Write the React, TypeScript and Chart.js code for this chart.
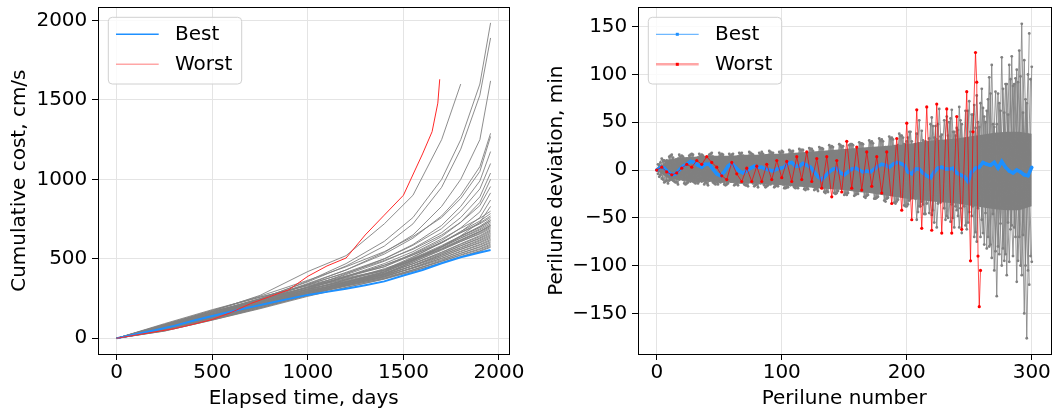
import React, { useEffect, useRef } from 'react';
import { Chart, registerables } from 'chart.js';

Chart.register(...registerables);

// ---------------- LEFT PANEL DATA (cumulative cost) ----------------
const costTimes = [0, 250, 500, 750, 1000, 1200, 1400, 1550, 1700, 1800, 1900, 1956];

const grayCostRuns = [
  // high outliers
  [0, 70, 150, 245, 360, 470, 610, 760, 1000, 1250, 1600, 1985],
  [0, 75, 160, 250, 355, 455, 580, 720, 950, 1190, 1530, 1890],
  [0, 80, 170, 270, 420, 520, 720, 900, 1250, 1600],
  [0, 65, 145, 235, 340, 430, 540, 650, 830, 1000, 1250, 1620],
  [0, 70, 150, 240, 345, 430, 530, 630, 770, 900, 1080, 1290],
  [0, 85, 175, 265, 365, 450, 545, 640, 760, 880, 1050, 1270],
  [0, 60, 140, 225, 320, 405, 500, 590, 710, 830, 990, 1175],
  [0, 75, 155, 240, 335, 415, 500, 585, 690, 800, 940, 1100],
  [0, 68, 148, 232, 325, 400, 485, 565, 665, 760, 890, 1040],
  [0, 55, 130, 215, 310, 390, 470, 545, 640, 730, 855, 1000],
  [0, 80, 165, 250, 340, 410, 490, 560, 650, 730, 835, 955],
  [0, 62, 140, 222, 312, 385, 460, 530, 615, 695, 795, 915],
  [0, 72, 152, 235, 320, 390, 460, 525, 600, 670, 760, 870],
  [0, 58, 132, 212, 300, 368, 438, 500, 575, 645, 730, 830],
  // dense core
  [0, 78, 160, 240, 322, 385, 450, 534, 625, 692, 755, 800],
  [0, 52, 125, 205, 290, 355, 420, 508, 603, 672, 738, 785],
  [0, 66, 145, 225, 305, 368, 432, 513, 601, 665, 726, 770],
  [0, 88, 175, 258, 335, 392, 450, 524, 605, 664, 720, 760],
  [0, 45, 115, 190, 272, 338, 402, 486, 576, 642, 705, 750],
  [0, 70, 150, 230, 308, 368, 428, 503, 584, 643, 699, 740],
  [0, 60, 138, 215, 295, 355, 415, 491, 573, 632, 689, 730],
  [0, 82, 165, 245, 320, 375, 430, 500, 575, 630, 682, 720],
  [0, 50, 120, 198, 280, 342, 405, 479, 559, 617, 672, 712],
  [0, 74, 152, 230, 306, 362, 418, 487, 562, 616, 668, 705],
  [0, 64, 140, 218, 295, 352, 410, 479, 554, 609, 661, 698],
  [0, 92, 180, 260, 330, 380, 430, 492, 560, 609, 656, 690],
  [0, 55, 128, 205, 285, 345, 402, 469, 542, 595, 646, 682],
  [0, 68, 146, 222, 298, 352, 405, 470, 540, 591, 640, 675],
  [0, 48, 118, 192, 272, 332, 392, 458, 530, 582, 632, 668],
  [0, 80, 160, 238, 308, 358, 408, 468, 534, 582, 627, 660],
  [0, 60, 134, 210, 288, 342, 395, 457, 524, 572, 619, 652],
  [0, 72, 150, 226, 298, 348, 398, 457, 522, 568, 613, 645],
  [0, 52, 124, 198, 276, 332, 386, 446, 512, 560, 605, 638],
  [0, 86, 168, 242, 310, 355, 400, 455, 515, 559, 600, 630],
  [0, 58, 130, 204, 280, 334, 386, 443, 504, 549, 591, 622],
  [0, 66, 142, 216, 290, 340, 390, 444, 502, 545, 586, 615],
  [0, 46, 114, 186, 264, 320, 374, 430, 490, 535, 577, 607],
  [0, 76, 154, 228, 298, 344, 390, 440, 495, 535, 573, 600],
  [0, 56, 128, 200, 275, 328, 378, 429, 485, 526, 564, 592],
  [0, 68, 144, 216, 287, 336, 382, 431, 484, 522, 559, 585],
  [0, 50, 120, 192, 268, 320, 372, 421, 475, 514, 551, 578],
  [0, 62, 136, 208, 280, 330, 376, 423, 474, 511, 547, 572],
  [0, 56, 130, 208, 290, 352, 416, 494, 578, 640, 698, 740],
  [0, 84, 168, 246, 318, 372, 424, 493, 567, 621, 673, 710],
];

const bestCostTimes = [0, 100, 200, 300, 400, 500, 600, 700, 800, 900, 1000, 1100, 1200, 1300, 1400, 1500, 1600, 1700, 1800, 1900, 1956];
const bestCost = [0, 25, 50, 78, 110, 140, 168, 196, 222, 248, 273, 292, 312, 334, 358, 395, 430, 472, 510, 540, 556];

const worstCostTimes = [0, 100, 200, 300, 400, 500, 600, 700, 800, 900, 1000, 1100, 1200, 1300, 1400, 1500, 1600, 1650, 1680, 1690];
const worstCost = [0, 20, 40, 60, 88, 118, 163, 218, 262, 305, 390, 455, 505, 650, 775, 900, 1160, 1300, 1480, 1630];

const costXTicks = [0, 500, 1000, 1500, 2000];
const costYTicks = [0, 500, 1000, 1500, 2000];

// ---------------- RIGHT PANEL DATA (perilune deviation) ----------------
const bestDevStep = 3; // best deviation sampled every 3 perilunes from 0
const bestDev = [
  0, 3, 2, -2, -5, -4, 0, 4, 6, 9,
  8, 5, 3, 6, 6, 1, -4, -6, -2, 4,
  7, 3, -1, -3, -1, 2, 4, 3, 3, 1,
  0, -1, 1, 2, 3, 7, 8, 4, 4, 7,
  5, 3, -2, -7, -10, -6, -2, 1, 2, -3,
  -5, -2, 1, 2, 0, -2, -1, -2, 1, 4,
  6, 5, 3, 6, 8, 7, 5, -2, -4, 1,
  1, -3, -6, -8, -2, 2, 3, 1, 1, 2,
  -3, -5, -7, -12, -2, 2, 3, 8, 6, 5,
  8, 2, 9, 3, -1, -3, 0, -2, -5, -6,
  3,
];

const worstPerilune = [0, 4, 8, 12, 16, 20, 24, 28, 32, 36, 40, 44, 48, 52, 56, 60, 64, 68, 72, 76, 80, 84, 88, 92, 96, 100, 104, 108, 112, 116, 120, 124, 128, 132, 136, 140, 144, 148, 152, 156, 160, 164, 168, 172, 176, 180, 184, 188, 192, 196, 200, 204, 208, 212, 216, 220, 224, 228, 232, 236, 240, 244, 248, 251, 253, 255, 256, 257, 258, 259];
const worstDev = [0, 3, -2, -5, -3, 2, 6, 3, 10, 6, 14, 8, 3, -6, -10, 8, -4, -12, 2, -12, 4, -12, 6, -10, 10, -8, 9, -12, 14, -10, 19, -12, 12, -19, 14, -28, 10, -23, 30, -19, 24, -21, 19, -17, 14, -24, 19, -35, 33, -42, 49, -52, 63, -61, 66, -63, 69, -66, 64, -66, 56, -62, 82, -95, 40, 123, 92, -90, -143, -105];

// dense core of the Monte-Carlo runs, every 10 perilunes
const coreStep = 10;
const coreUpper = [1, 11, 13, 14, 15, 15, 15, 16, 16, 17, 17, 18, 19, 20, 21, 22, 23, 24, 25, 26, 27, 29, 31, 32, 33, 35, 37, 39, 40, 40, 38];
const coreLower = [-1, -9, -11, -12, -12, -13, -13, -14, -14, -15, -16, -17, -18, -19, -20, -21, -23, -24, -26, -28, -30, -31, -33, -34, -35, -37, -39, -41, -42, -42, -38];

// individual runs, turning points every 4 perilunes
const turnStep = 4;
const grayDevA = [
  0, 12, -11, 16, -13, 15, -14, 17, -12, 16,
  -14, 18, -13, 17, -15, 16, -14, 18, -16, 17,
  -15, 19, -17, 18, -16, 20, -18, 19, -17, 21,
  -19, 22, -20, 23, -22, 25, -24, 24, -26, 27,
  -25, 28, -27, 30, -29, 32, -30, 34, -33, 36,
  -38, 30, -52, 41, -35, 55, -60, 37, -48, 63,
  -42, 48, -62, 58, -75, 85, -82, 110, -132, 118,
  -110, 119, -117, 153, -176, 108,
];
const grayDevB = [
  5, -13, 14, -12, 16, -14, 15, -13, 17, -15,
  16, -14, 18, -15, 17, -16, 18, -15, 19, -17,
  18, -16, 20, -18, 19, -19, 21, -18, 22, -20,
  23, -21, 24, -23, 26, -24, 27, -26, 26, -27,
  29, -28, 31, -30, 33, -32, 35, -34, 38, -37,
  40, -28, 52, -46, 33, -55, 64, -40, 50, -60,
  66, -38, 72, -70, 45, -78, 97, -105, 70, -95,
  110, -60, 125, -150, 143,
];
const grayDevC = [
  -4, 10, -14, 13, -15, 14, -13, 16, -14, 15,
  -16, 14, -15, 16, -14, 17, -16, 15, -17, 16,
  -18, 17, -16, 18, -17, 19, -18, 20, -19, 21,
  -20, 20, -22, 22, -23, 24, -22, 25, -24, 26,
  -25, 27, -26, 28, -28, 30, -29, 32, -31, 34,
  -36, 25, -44, 31, -28, 46, -35, 28, -50, 40,
  -48, 32, -55, 58, -40, 65, -70, 48, -80, 85,
  -55, 88, -95, 60, -105,
];
const grayDevD = [
  8, -12, 15, -13, 14, -15, 16, -14, 15, -13,
  17, -15, 16, -16, 15, -15, 17, -16, 18, -16,
  17, -18, 19, -17, 18, -19, 20, -19, 21, -21,
  22, -20, 23, -24, 24, -25, 26, -25, 27, -26,
  28, -29, 29, -30, 31, -33, 33, -35, 36, -38,
  40, -30, 28, -46, 48, -26, 35, -52, 54, -38,
  52, -58, 40, -65, 70, -45, 80, -85, 62, -88,
  95, -70, 98, -100, 95,
];
const grayDevE = [
  0, -9, 10, -10, 11, -9, 12, -11, 10, -12,
  11, -10, 13, -11, 12, -12, 11, -13, 12, -12,
  13, -12, 14, -13, 12, -14, 15, -13, 14, -15,
  16, -14, 15, -17, 17, -16, 18, -18, 17, -19,
  20, -19, 21, -20, 22, -22, 23, -24, 25, -26,
  30, -24, 38, -33, 26, -47, 32, -28, 56, -36,
  44, -66, 30, -48, 78, -52, 62, -92, 48, -100,
  90, -58, 105, -110, 70, -96,
];
const grayDevF = [
  -7, 10, -11, 9, -10, 12, -11, 11, -12, 10,
  -11, 12, -12, 13, -11, 12, -13, 12, -12, 14,
  -13, 13, -14, 12, -14, 15, -14, 14, -16, 15,
  -15, 17, -16, 16, -18, 18, -17, 19, -19, 18,
  -20, 21, -21, 22, -23, 22, -24, 25, -26, 27,
  -32, 24, -38, 29, -45, 34, -26, 52, -30, 40,
  -60, 28, -44, 68, -34, 56, -80, 45, -88, 60,
  -96, 90, -70, 115, -120,
];
const grayDevG = [
  6, -10, 9, -11, 12, -10, 11, -12, 13, -11,
  12, -13, 11, -12, 13, -12, 14, -13, 12, -14,
  13, -14, 15, -13, 14, -15, 13, -16, 15, -14,
  16, -17, 16, -15, 18, -17, 19, -18, 17, -20,
  19, -21, 20, -22, 23, -21, 24, -23, 26, -25,
  34, -22, 28, -36, 24, -42, 48, -30, 36, -50,
  42, -32, 62, -38, 50, -66, 74, -46, 80, -82,
  58, -90, 92, -68, 100,
];
const grayDevH = [
  -5, 9, -10, 11, -9, 10, -12, 10, -11, 12,
  -10, 11, -13, 12, -12, 11, -13, 13, -12, 14,
  -14, 13, -15, 14, -13, 15, -16, 14, -15, 16,
  -16, 15, -18, 17, -16, 18, -19, 18, -20, 19,
  -19, 21, -22, 21, -23, 24, -24, 25, -27, 26,
  -30, 22, -38, 30, -26, 46, -34, 28, -54, 36,
  -40, 62, -32, 44, -70, 50, -78, 82, -56, 90,
  -62, 96, -100, 74, -90,
];
const grayDevRuns = [grayDevA, grayDevB, grayDevC, grayDevD, grayDevE, grayDevF, grayDevG, grayDevH];
const grayDevStart = [0, 2, 1, 3, 0, 2, 1, 3];

const devXTicks = [0, 100, 200, 300];
const devYTicks = [-150, -100, -50, 0, 50, 100, 150];

// ---------------- STYLE ----------------
const FONT_FAMILY = "'DejaVu Sans', 'Liberation Sans', sans-serif";
const FONT20 = { family: FONT_FAMILY, size: 20 };
const BLUE = 'rgb(30,144,255)';
const GRID = '#e4e4e4';

const fmt = (v: number) => (v < 0 ? '\u2212' + Math.abs(v) : String(v));

const framePlugin = {
  id: 'frame',
  afterDatasetsDraw(chart: any, _args: any, opts: any) {
    const { ctx, chartArea: a } = chart;
    ctx.save();
    ctx.strokeStyle = '#000';
    ctx.lineWidth = 1;
    const l = Math.round(a.left) + 0.5;
    const t = Math.round(a.top) + 0.5;
    const r = Math.round(a.right) + 0.5;
    const b = Math.round(a.bottom) + 0.5;
    ctx.strokeRect(l, t, r - l, b - t);

    const items = (opts && opts.items) || [];
    if (items.length) {
      const bx = a.left + 10.3;
      const by = a.top + 10;
      const bw = 133.4;
      const bh = 66.7;
      ctx.beginPath();
      if ((ctx as any).roundRect) (ctx as any).roundRect(bx, by, bw, bh, 4);
      else ctx.rect(bx, by, bw, bh);
      ctx.fillStyle = 'rgba(255,255,255,0.8)';
      ctx.fill();
      ctx.strokeStyle = '#d0d0d0';
      ctx.lineWidth = 1;
      ctx.stroke();
      items.forEach((it: any, i: number) => {
        const y = by + 17 + i * 30;
        ctx.beginPath();
        ctx.moveTo(bx + 7.7, y);
        ctx.lineTo(bx + 50.4, y);
        ctx.strokeStyle = it.color;
        ctx.lineWidth = it.width;
        ctx.stroke();
        if (it.marker) {
          ctx.fillStyle = it.marker;
          ctx.fillRect(bx + 29 - 1.5, y - 1.5, 3, 3);
        }
        ctx.fillStyle = '#000';
        ctx.font = `20px ${FONT_FAMILY}`;
        ctx.textBaseline = 'middle';
        ctx.textAlign = 'left';
        ctx.fillText(it.label, bx + 66.7, y);
      });
    }
    ctx.restore();
  },
};

function makeAxis(o: any) {
  return {
    type: 'linear',
    min: o.min,
    max: o.max,
    afterFit: (s: any) => {
      if (o.width !== undefined) s.width = o.width;
      if (o.height !== undefined) s.height = o.height;
      s.paddingTop = 0;
      s.paddingBottom = 0;
      s.paddingLeft = 0;
      s.paddingRight = 0;
    },
    afterBuildTicks: (s: any) => {
      s.ticks = o.ticks.map((v: number) => ({ value: v }));
    },
    ticks: {
      font: FONT20,
      color: '#000',
      padding: o.tickPad,
      maxRotation: 0,
      autoSkip: false,
      includeBounds: false,
      callback: (v: any) => fmt(Number(v)),
    },
    grid: {
      color: GRID,
      lineWidth: 1,
      drawTicks: true,
      tickLength: 6,
      tickColor: '#000',
      tickWidth: 1,
    },
    border: { display: false },
    title: {
      display: true,
      text: o.title,
      font: FONT20,
      color: '#000',
      padding: o.titlePad,
    },
  };
}

function leftConfig(): any {
  const datasets: any[] = [
    {
      label: 'Best',
      data: bestCostTimes.map((t, i) => ({ x: t, y: bestCost[i] })),
      borderColor: BLUE,
      borderWidth: 2,
      pointRadius: 0,
      order: 1,
    },
    {
      label: 'Worst',
      data: worstCostTimes.map((t, i) => ({ x: t, y: worstCost[i] })),
      borderColor: 'rgb(255,40,40)',
      borderWidth: 1,
      pointRadius: 0,
      order: 0,
    },
    ...grayCostRuns.map((run) => ({
      label: '',
      data: run.map((v, i) => ({ x: costTimes[i], y: v })),
      borderColor: 'rgb(128,128,128)',
      borderWidth: 0.9,
      pointRadius: 0,
      order: 2,
    })),
  ];
  return {
    type: 'line',
    data: { datasets },
    options: {
      animation: false,
      responsive: false,
      devicePixelRatio: 1,
      events: [],
      layout: { padding: { left: 0, top: 7.3, right: 18.7, bottom: 0 } },
      elements: { line: { tension: 0 } },
      scales: {
        x: makeAxis({ min: -97.8, max: 2054, height: 60, ticks: costXTicks, tickPad: 1, title: 'Elapsed time, days', titlePad: { top: 0, bottom: 3.4 } }),
        y: makeAxis({ min: -99, max: 2083, width: 98, ticks: costYTicks, tickPad: 4.7, title: 'Cumulative cost, cm/s', titlePad: { top: 7.8, bottom: 0 } }),
      },
      plugins: {
        legend: { display: false },
        tooltip: { enabled: false },
        frame: {
          items: [
            { label: 'Best', color: BLUE, width: 1.5 },
            { label: 'Worst', color: 'rgba(255,0,0,0.35)', width: 1.5 },
          ],
        },
      },
    },
    plugins: [framePlugin],
  };
}

function rightConfig(): any {
  const datasets: any[] = [
    {
      label: 'Best',
      data: bestDev.map((v, i) => ({ x: i * bestDevStep, y: v })),
      borderColor: BLUE,
      borderWidth: 3.5,
      pointRadius: 1.7,
      pointBorderWidth: 0,
      pointBackgroundColor: BLUE,
      order: 1,
    },
    {
      label: 'Worst',
      data: worstPerilune.map((p, i) => ({ x: p, y: worstDev[i] })),
      borderColor: 'rgba(255,0,0,0.7)',
      borderWidth: 1,
      pointRadius: 1.6,
      pointBorderWidth: 0,
      pointBackgroundColor: 'rgb(255,0,0)',
      order: 0,
    },
    {
      label: '',
      data: coreUpper.map((v, i) => ({ x: i * coreStep, y: v })),
      borderWidth: 0,
      pointRadius: 0,
      fill: false,
      order: 3,
    },
    {
      label: '',
      data: coreLower.map((v, i) => ({ x: i * coreStep, y: v })),
      borderWidth: 0,
      pointRadius: 0,
      fill: '-1',
      backgroundColor: 'rgb(128,128,128)',
      order: 3,
    },
    ...grayDevRuns.map((run, k) => ({
      label: '',
      data: run.map((v, i) => ({ x: grayDevStart[k] + i * turnStep, y: v })),
      borderColor: 'rgba(128,128,128,0.8)',
      borderWidth: 1,
      pointRadius: 1.4,
      pointBorderWidth: 0,
      pointBackgroundColor: 'rgb(128,128,128)',
      order: 2,
    })),
  ];
  return {
    type: 'line',
    data: { datasets },
    options: {
      animation: false,
      responsive: false,
      devicePixelRatio: 1,
      events: [],
      layout: { padding: { left: 0, top: 7.3, right: 5.5, bottom: 0 } },
      elements: { line: { tension: 0 } },
      scales: {
        x: makeAxis({ min: -15, max: 315, height: 60, ticks: devXTicks, tickPad: 1, title: 'Perilune number', titlePad: { top: 0, bottom: 3.4 } }),
        y: makeAxis({ min: -192.5, max: 170.3, width: 110, ticks: devYTicks, tickPad: 4.7, title: 'Perilune deviation, min', titlePad: { top: 16.4, bottom: 0 } }),
      },
      plugins: {
        legend: { display: false },
        tooltip: { enabled: false },
        frame: {
          items: [
            { label: 'Best', color: 'rgba(30,144,255,0.8)', width: 1, marker: BLUE },
            { label: 'Worst', color: 'rgba(255,0,0,0.35)', width: 2.5, marker: 'rgb(255,0,0)' },
          ],
        },
      },
    },
    plugins: [framePlugin],
  };
}

function ChartCanvas(props: { make: () => any; left: number; width: number }) {
  const ref = useRef<HTMLCanvasElement | null>(null);
  useEffect(() => {
    if (!ref.current) return;
    const chart = new Chart(ref.current, props.make());
    return () => chart.destroy();
  }, []);
  return (
    <canvas
      ref={ref}
      width={props.width}
      height={414}
      style={{ position: 'absolute', left: props.left, top: 0, width: props.width, height: 414 }}
    />
  );
}

export default function App() {
  return (
    <div style={{ position: 'fixed', left: 0, top: 0, width: 1056, height: 414, background: '#fff', overflow: 'hidden' }}>
      <ChartCanvas make={leftConfig} left={0} width={528} />
      <ChartCanvas make={rightConfig} left={528} width={528} />
    </div>
  );
}
